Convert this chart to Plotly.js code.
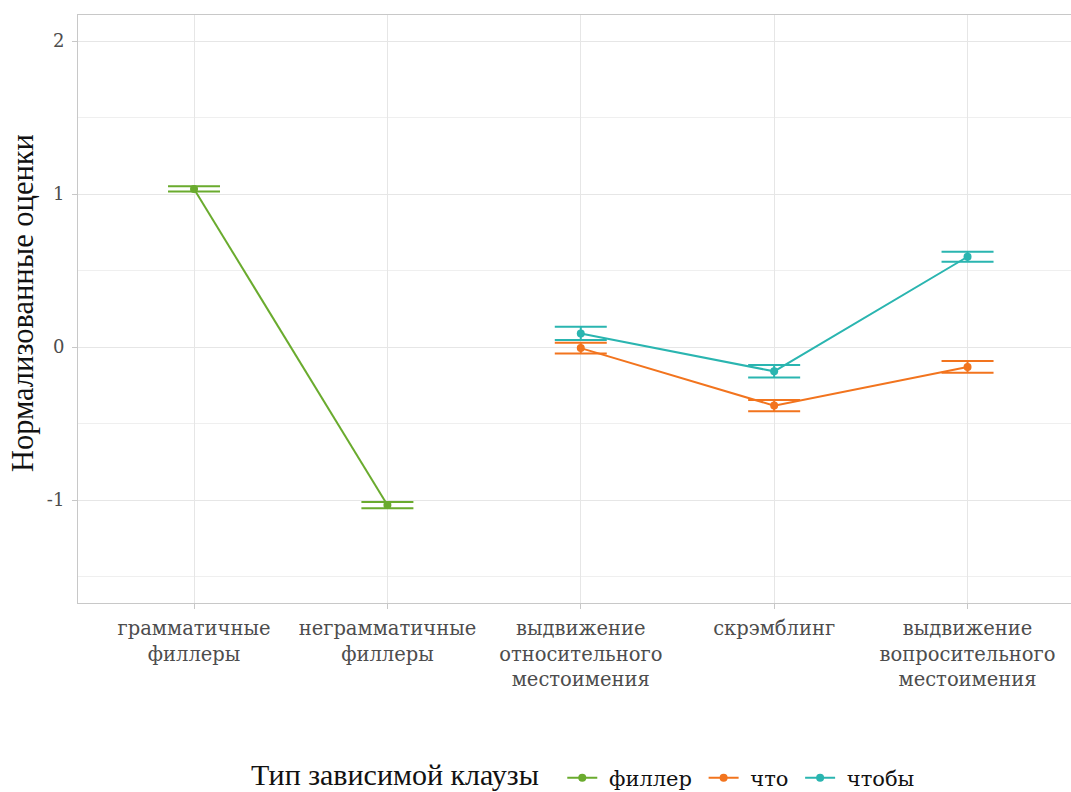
<!DOCTYPE html>
<html><head><meta charset="utf-8">
<script src="https://cdn.plot.ly/plotly-3.0.1.min.js"></script>
<style>body{margin:0;background:#fff}#chart{width:1071px;height:792px}</style>
</head><body><div id="chart"></div>
<script>
const categories = ["грамматичные<br>филлеры","неграмматичные<br>филлеры","выдвижение<br>относительного<br>местоимения","скрэмблинг","выдвижение<br>вопросительного<br>местоимения"];
const fillerX = [categories[0], categories[1]];
const fillerY = [1.033, -1.033];
const fillerErr = [0.017, 0.02];
const otherX = [categories[2], categories[3], categories[4]];
const chtoY = [-0.007, -0.383, -0.13];
const chtoErr = [0.035, 0.037, 0.038];
const chtobyY = [0.089, -0.159, 0.59];
const chtobyErr = [0.043, 0.041, 0.032];
const seriesNames = ["филлер", "что", "чтобы"];
const legendTitle = "Тип зависимой клаузы";
const yTitle = "Нормализованные оценки";
const colors = ["#6aab2e", "#f2741e", "#2ab5b0"];

function tr(x, y, e, name, c) {
  return {x: x, y: y, name: "\u00a0" + name + "\u00a0", type: "scatter", mode: "lines+markers",
    line: {color: c, width: 2}, marker: {color: c, size: 8},
    error_y: {type: "data", array: e, visible: true, color: c, thickness: 2, width: 26}};
}
const data = [
  tr(fillerX, fillerY, fillerErr, seriesNames[0], colors[0]),
  tr(otherX, chtoY, chtoErr, seriesNames[1], colors[1]),
  tr(otherX, chtobyY, chtobyErr, seriesNames[2], colors[2])
];
const layout = {
  width: 1071, height: 792,
  margin: {l: 78, r: 0, t: 15, b: 189},
  paper_bgcolor: "#fff", plot_bgcolor: "#fff",
  font: {family: "DejaVu Serif, serif", color: "#4d4d4d"},
  xaxis: {type: "category", categoryorder: "array", categoryarray: categories, automargin: false,
    range: [-0.6, 4.535], showgrid: true, gridcolor: "#e6e6e6", gridwidth: 1,
    showline: true, linecolor: "#c8c8c8", linewidth: 1, mirror: true,
    ticks: "outside", ticklen: 5, tickcolor: "#c8c8c8", ticklabelstandoff: 3,
    tickfont: {family: "DejaVu Serif, serif", size: 19.5, color: "#4d4d4d"}, zeroline: false},
  yaxis: {range: [-1.673, 2.17], tickvals: [-1, 0, 1, 2], ticktext: ["-1", "0", "1", "2"], automargin: false,
    showgrid: true, gridcolor: "#e6e6e6", gridwidth: 1,
    minor: {tickvals: [-1.5, -0.5, 0.5, 1.5], showgrid: true, gridcolor: "#efefef", gridwidth: 1},
    showline: true, linecolor: "#c8c8c8", linewidth: 1, mirror: true,
    ticks: "outside", ticklen: 5, tickcolor: "#c8c8c8", zeroline: false, ticklabelstandoff: 4,
    tickfont: {family: "DejaVu Serif, serif", size: 18, color: "#4d4d4d"}},
  annotations: [
    {text: yTitle, xref: "paper", yref: "paper", x: -0.0554, y: 0.51, xanchor: "center", yanchor: "middle",
     textangle: -90, showarrow: false, font: {family: "Liberation Serif, serif", size: 30.5, color: "#111"}},
    {text: legendTitle, xref: "paper", yref: "paper", x: 0.1732, y: -0.2925, xanchor: "left", yanchor: "middle",
     showarrow: false, borderpad: 0, font: {family: "Liberation Serif, serif", size: 30, color: "#111"}}
  ],
  showlegend: true,
  legend: {orientation: "h", xref: "container", yref: "container", x: 0.525, xanchor: "left", y: 0.0177, yanchor: "middle",
    font: {family: "DejaVu Serif, serif", size: 21, color: "#111"}, itemwidth: 30}
};
Plotly.newPlot("chart", data, layout, {displayModeBar: false, staticPlot: true});
</script></body></html>
